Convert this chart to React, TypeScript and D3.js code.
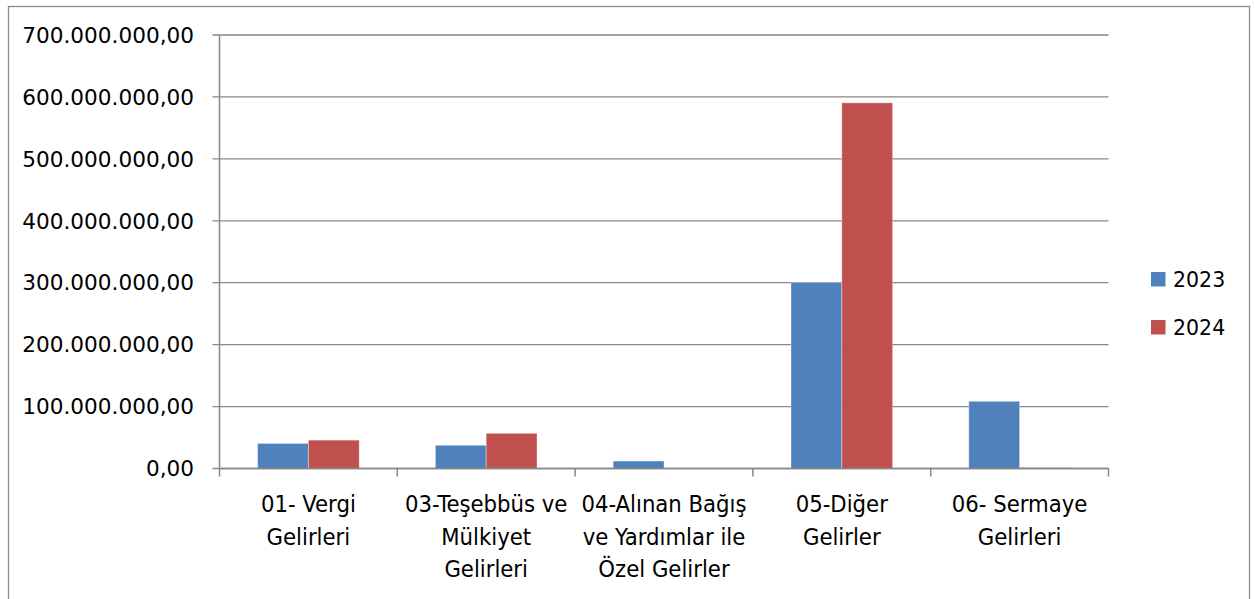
import * as d3 from 'd3';

const categories = ['01- Vergi Gelirleri', '03-Teşebbüs ve Mülkiyet Gelirleri', '04-Alınan Bağış ve Yardımlar ile Özel Gelirler', '05-Diğer Gelirler', '06- Sermaye Gelirleri'];
const categoryLines = [
  ['01- Vergi', 'Gelirleri'],
  ['03-Teşebbüs ve', 'Mülkiyet', 'Gelirleri'],
  ['04-Alınan Bağış', 've Yardımlar ile', 'Özel Gelirler'],
  ['05-Diğer', 'Gelirler'],
  ['06- Sermaye', 'Gelirleri'],
];
const years = ['2023', '2024'];
const values2023 = [40500000, 37500000, 12000000, 300500000, 108500000];
const values2024 = [45800000, 56800000, 0, 590500000, 1500000];
const yTicks = [0, 100000000, 200000000, 300000000, 400000000, 500000000, 600000000, 700000000];
const colors = ['#4F81BD', '#C0504D'];

const trLocale = d3.formatLocale({ decimal: ',', thousands: '.', grouping: [3], currency: ['', ' ₺'] });
const fmt = trLocale.format(',.2f');

export default function App() {
  const left = 219.5;
  const right = 1108.5;
  const top = 35;
  const bottom = 468.5;

  const x = d3.scaleBand().domain(categories).range([left, right]).paddingInner(0).paddingOuter(0);
  // Excel gap width 150% -> bars take 2/(2+1.5) of the band
  const groupW = x.bandwidth() * (2 / 3.5);
  const xs = d3.scaleBand().domain(years).range([0, groupW]);
  const y = d3.scaleLinear().domain([0, 700000000]).range([bottom, top]);

  const series = [values2023, values2024];
  const gridColor = '#878787';
  const font = 'DejaVu Sans Condensed, DejaVu Sans, sans-serif';

  return (
    <svg width={1255} height={599} style={{ position: 'absolute', left: 0, top: 0, background: '#fff' }}>
      <rect x={8.5} y={6.5} width={1241} height={620} fill="#fff" stroke="#8a8a8a" strokeWidth={1.3} />

      {/* gridlines + y ticks */}
      {yTicks.map((t) => (
        <g key={t}>
          <line x1={left - 7} x2={right} y1={y(t)} y2={y(t)} stroke={gridColor} strokeWidth={1.3} />
          <text x={194} y={y(t)} dy="0.36em" textAnchor="end" fontFamily="DejaVu Sans, sans-serif" fontSize={21.6} fill="#000">
            {fmt(t)}
          </text>
        </g>
      ))}

      {/* bars */}
      {categories.map((c, i) => {
        const gx = (x(c) as number) + (x.bandwidth() - groupW) / 2;
        return (
          <g key={c} transform={`translate(${gx},0)`}>
            {series.map((s, j) => (
              <rect
                key={years[j]}
                x={xs(years[j])}
                y={y(s[i])}
                width={xs.bandwidth()}
                height={bottom - y(s[i])}
                fill={colors[j]}
                stroke="#ffffff"
                strokeOpacity={0.35}
                strokeWidth={1}
              />
            ))}
          </g>
        );
      })}

      {/* axes */}
      <line x1={left} x2={left} y1={top} y2={bottom} stroke={gridColor} strokeWidth={1.5} />
      <line x1={left} x2={right} y1={bottom} y2={bottom} stroke={gridColor} strokeWidth={1.5} />
      {[...categories.map((c) => x(c) as number), right].map((v, i) => (
        <line key={i} x1={v} x2={v} y1={bottom} y2={bottom + 8} stroke={gridColor} strokeWidth={1.5} />
      ))}

      {/* category labels */}
      {categories.map((c, i) => (
        <text key={c} x={(x(c) as number) + x.bandwidth() / 2} textAnchor="middle" fontFamily={font} fontSize={23.6} fill="#000">
          {categoryLines[i].map((ln, k) => (
            <tspan key={k} x={(x(c) as number) + x.bandwidth() / 2} y={512 + k * 32.5}>
              {ln}
            </tspan>
          ))}
        </text>
      ))}

      {/* legend */}
      {years.map((yr, j) => (
        <g key={yr} transform={`translate(1151,${272 + j * 48})`}>
          <rect x={0} y={0} width={14.5} height={14.5} fill={colors[j]} />
          <text x={22} y={14.8} fontFamily="DejaVu Sans, sans-serif" fontSize={20.5} fill="#000">
            {yr}
          </text>
        </g>
      ))}
    </svg>
  );
}
